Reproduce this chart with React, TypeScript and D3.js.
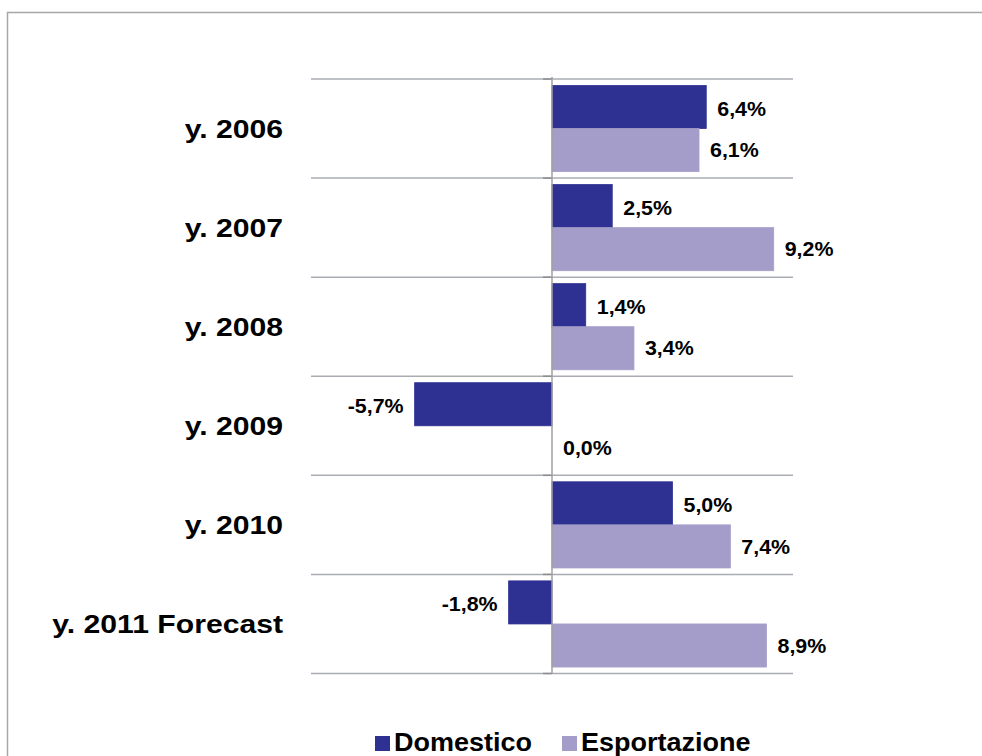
import React from "react";
import * as d3 from "d3";

const categories = ["y. 2006", "y. 2007", "y. 2008", "y. 2009", "y. 2010", "y. 2011 Forecast"];
const seriesNames = ["Domestico", "Esportazione"];
const domestico = [6.4, 2.5, 1.4, -5.7, 5.0, -1.8];
const esportazione = [6.1, 9.2, 3.4, 0.0, 7.4, 8.9];
const colors = ["#2E3192", "#A59DC9"];

const W = 982;
const H = 756;
const FONT = "'Liberation Sans', Arial, Helvetica, sans-serif";

const fmt = (v: number) => v.toFixed(1).replace(".", ",") + "%";

export default function App() {
  const x = d3.scaleLinear().domain([-10, 10]).range([311, 793]);
  const y = d3.scaleBand<string>().domain(categories).range([79, 673.5]).paddingInner(0).paddingOuter(0);
  const inner = d3.scaleBand<string>().domain(seriesNames).range([0, y.bandwidth()]).paddingInner(0).paddingOuter(0.15);
  const x0 = x(0);
  const series = [domestico, esportazione];
  const gridYs = categories.map((c) => y(c)!).concat([y.range()[1]]);

  const catFs = 26;
  const valFs = 20;
  const legFs = 25;

  return (
    <svg width={W} height={H} style={{ position: "absolute", left: 0, top: 0, background: "#fff" }}>
      <rect x={7.5} y={12.5} width={W + 20} height={H + 20} fill="#fff" stroke="#A6A6A6" strokeWidth={1.5} />
      {gridYs.map((gy, i) => (
        <g key={"g" + i}>
          <line x1={x.range()[0]} x2={x.range()[1]} y1={gy} y2={gy} stroke="#A9ADB3" strokeWidth={1.5} />
          <line x1={x0 - 9} x2={x0} y1={gy} y2={gy} stroke="#8C8C8C" strokeWidth={1.5} />
        </g>
      ))}
      {categories.map((c, ci) =>
        series.map((vals, si) => {
          const v = vals[ci];
          const by = y(c)! + inner(seriesNames[si])!;
          const bh = inner.bandwidth();
          const xa = Math.min(x(v), x0);
          const w = Math.abs(x(v) - x0);
          return (
            <rect key={c + si} x={xa} y={by} width={w} height={bh} fill={colors[si]} stroke={colors[si]} strokeWidth={0.8} />
          );
        })
      )}
      <line x1={x0} x2={x0} y1={y.range()[0] - 2} y2={y.range()[1]} stroke="#A0A0A0" strokeWidth={1.5} />
      {categories.map((c, ci) =>
        series.map((vals, si) => {
          const v = vals[ci];
          const by = y(c)! + inner(seriesNames[si])! + inner.bandwidth() / 2;
          const neg = v < 0;
          const tx = neg ? x(v) - 11 : x(v) + 11;
          return (
            <text
              key={"l" + c + si}
              transform={`translate(${tx},${by + valFs * 0.36 + (si === 0 ? 1.5 : 0)}) scale(1.07,1)`}
              textAnchor={neg ? "end" : "start"}
              fontFamily={FONT}
              fontWeight="bold"
              fontSize={valFs}
              fill="#000"
            >
              {fmt(v)}
            </text>
          );
        })
      )}
      {categories.map((c) => (
        <text
          key={"c" + c}
          transform={`translate(283,${y(c)! + y.bandwidth() / 2 + catFs * 0.36}) scale(1.16,1)`}
          textAnchor="end"
          fontFamily={FONT}
          fontWeight="bold"
          fontSize={catFs}
          fill="#000"
        >
          {c}
        </text>
      ))}
      {seriesNames.map((s, i) => {
        const lx = [375, 562][i];
        return (
          <g key={"leg" + s}>
            <rect x={lx} y={736} width={15} height={15} fill={colors[i]} />
            <text
              transform={`translate(${lx + 19},751) scale(1.08,1)`}
              fontFamily={FONT}
              fontWeight="bold"
              fontSize={legFs}
              fill="#000"
            >
              {s}
            </text>
          </g>
        );
      })}
    </svg>
  );
}
